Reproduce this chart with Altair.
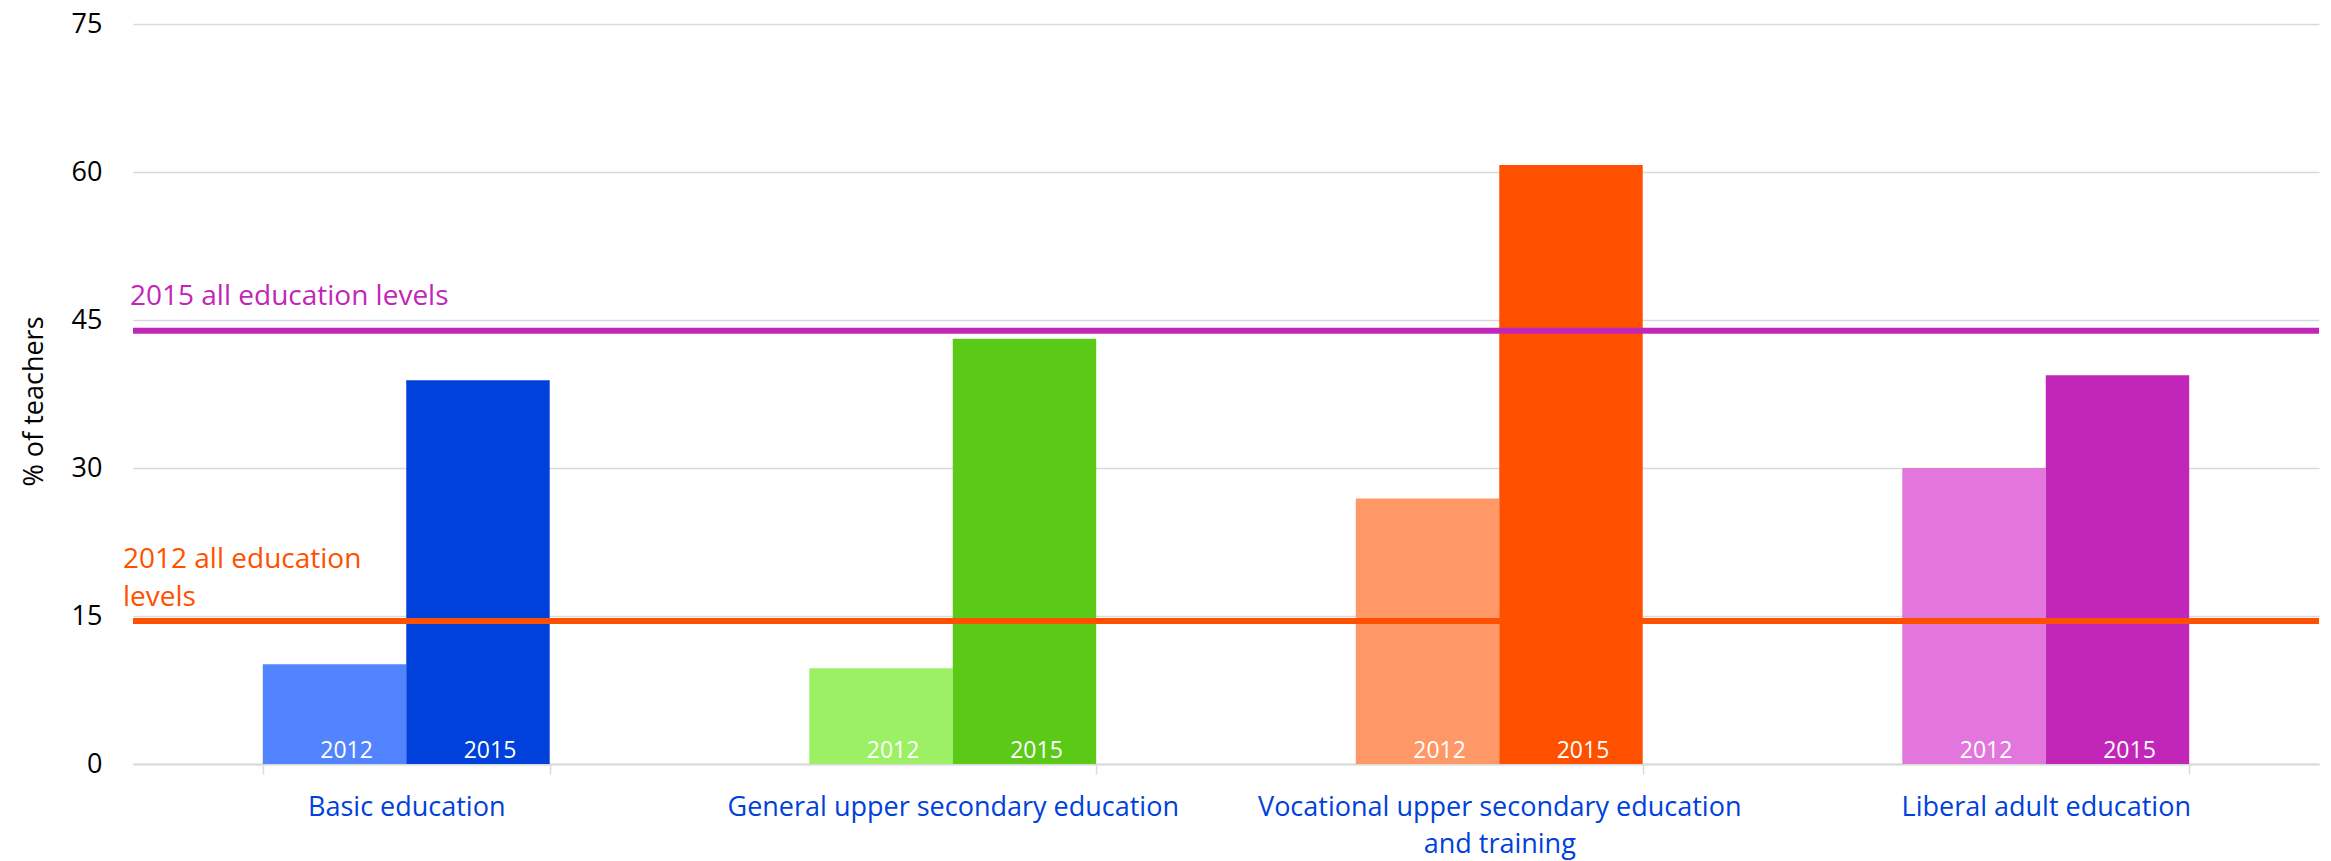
import altair as alt
import pandas as pd

categories = [
    "Basic education",
    "General upper secondary education",
    "Vocational upper secondary education and training",
    "Liberal adult education",
]
years = ["2012", "2015"]
values_2012 = [10.1, 9.7, 26.9, 30.0]
values_2015 = [38.9, 43.1, 60.7, 39.4]
colors_2012 = ["#5384FF", "#9CF064", "#FF9766", "#E276DC"]
colors_2015 = ["#0041DB", "#5ACA16", "#FF5000", "#C226B8"]

line_labels = ["2012 all education\nlevels", "2015 all education levels"]
line_values = [14.5, 43.9]
line_colors = ["#FF5000", "#C226B8"]

y_ticks = [0, 15, 30, 45, 60, 75]

rows = []
for i, c in enumerate(categories):
    rows.append({"category": c, "year": years[0], "value": values_2012[i], "color": colors_2012[i]})
    rows.append({"category": c, "year": years[1], "value": values_2015[i], "color": colors_2015[i]})
bars_df = pd.DataFrame(rows)

lines_df = pd.DataFrame({"label": line_labels, "value": line_values, "color": line_colors})

FONT = "Open Sans"

x_enc = alt.X(
    "category:N",
    sort=categories,
    scale=alt.Scale(paddingInner=0.475, paddingOuter=0.2375),
    axis=alt.Axis(
        title=None,
        grid=False,
        domainColor="#d9d9d9",
        domainWidth=2,
        tickColor="#d9d9d9",
        tickWidth=1.5,
        tickSize=10,
        tickBand="extent",
        labelAngle=0,
        labelColor="#0041DB",
        labelFont=FONT,
        labelFontSize=27,
        labelPadding=20,
        labelLineHeight=37,
        labelLimit=0,
        labelOverlap=False,
        labelExpr="datum.value == 'Vocational upper secondary education and training' ? ['Vocational upper secondary education', 'and training'] : datum.label",
    ),
)
xoff_enc = alt.XOffset("year:N", sort=years, scale=alt.Scale(paddingInner=0, paddingOuter=0))
y_enc = alt.Y(
    "value:Q",
    scale=alt.Scale(domain=[0, 75], nice=False, zero=True),
    axis=alt.Axis(
        values=y_ticks,
        title="% of teachers",
        titleFont=FONT,
        titleFontSize=27,
        titleFontWeight="normal",
        titleColor="#000000",
        titleAngle=270,
        titleBaseline="alphabetic",
        titleAlign="center",
        titleX=-91,
        titleY=377,
        grid=True,
        gridColor="#d9d9d9",
        gridWidth=1.5,
        domain=False,
        ticks=False,
        labelFont=FONT,
        labelFontSize=27,
        labelColor="#000000",
        labelPadding=31,
    ),
)

bars = alt.Chart(bars_df).mark_bar().encode(
    x=x_enc,
    xOffset=xoff_enc,
    y=y_enc,
    color=alt.Color("color:N", scale=None),
)

rules = alt.Chart(lines_df).mark_rule(strokeWidth=6).encode(
    y=alt.Y("value:Q"),
    color=alt.Color("color:N", scale=None),
)

ann_2012 = alt.Chart(lines_df.iloc[[0]]).mark_text(
    align="left", baseline="alphabetic", font=FONT, fontSize=28, lineBreak="\n", lineHeight=38, dy=-53
).encode(
    x=alt.value(-10),
    y=alt.Y("value:Q"),
    text="label:N",
    color=alt.Color("color:N", scale=None),
)

ann_2015 = alt.Chart(lines_df.iloc[[1]]).mark_text(
    align="left", baseline="alphabetic", font=FONT, fontSize=28, dy=-26
).encode(
    x=alt.value(-3),
    y=alt.Y("value:Q"),
    text="label:N",
    color=alt.Color("color:N", scale=None),
)

bar_labels = alt.Chart(bars_df).mark_text(
    color="white", font=FONT, fontSize=23, baseline="alphabetic", dy=-6, dx=12
).encode(
    x=alt.X("category:N", sort=categories),
    xOffset=xoff_enc,
    y=alt.YDatum(0),
    text="year:N",
)

chart = alt.layer(bars, rules, ann_2012, ann_2015, bar_labels).properties(
    width=2186,
    height=740,
    padding={"left": 125, "top": 16, "right": 4, "bottom": 96},
    autosize=alt.AutoSizeParams(type="none"),
).configure(font=FONT, view=alt.ViewConfig(stroke=None))

chart.save("out.html", embed_options={"renderer": "svg", "actions": False})
